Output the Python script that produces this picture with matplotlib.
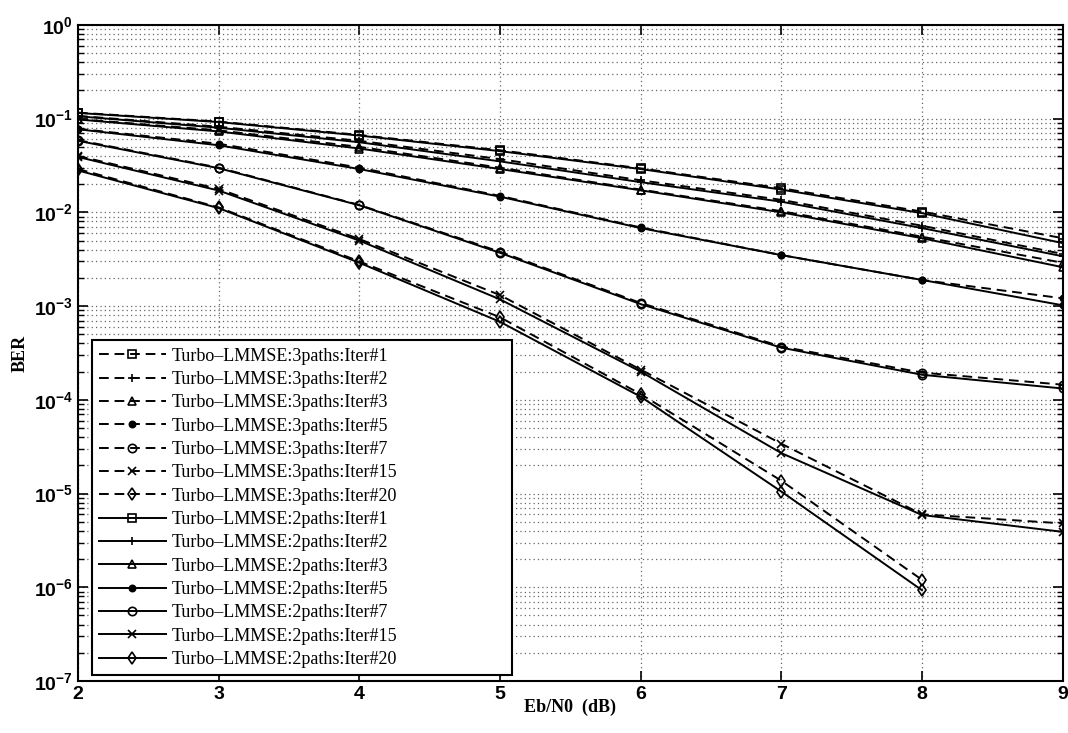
import numpy as np
import matplotlib
matplotlib.use('Agg')
import matplotlib.pyplot as plt
from matplotlib.ticker import LogLocator, NullFormatter, FuncFormatter

plt.rcParams['mathtext.fontset'] = 'custom'
plt.rcParams['mathtext.rm'] = 'Liberation Sans:bold'
plt.rcParams['mathtext.bf'] = 'Liberation Sans:bold'

# Eb/N0 in dB
ebn0 = [2, 3, 4, 5, 6, 7, 8, 9]

iters = ['1', '2', '3', '5', '7', '15', '20']
markers = ['s', '+', '^', '.', 'o', 'x', 'd']

# BER, 3 paths (dashed)
ber_3p_it1 = [0.116, 0.093, 0.067, 0.046, 0.0295, 0.0181, 0.0102, 0.0053]
ber_3p_it2 = [0.107, 0.082, 0.058, 0.037, 0.022, 0.0136, 0.0072, 0.0036]
ber_3p_it3 = [0.099, 0.075, 0.050, 0.030, 0.0175, 0.0103, 0.0055, 0.0029]
ber_3p_it5 = [0.078, 0.054, 0.030, 0.0150, 0.0069, 0.0035, 0.0019, 0.00121]
ber_3p_it7 = [0.059, 0.030, 0.0120, 0.0038, 0.00108, 0.00037, 0.000195, 0.000145]
ber_3p_it15 = [0.040, 0.0178, 0.0052, 0.00131, 0.00021, 3.4e-5, 6.0e-6, 4.8e-6]
ber_3p_it20 = [0.029, 0.0113, 0.0030, 0.00076, 0.000115, 1.37e-5, 1.2e-6]

# BER, 2 paths (solid)
ber_2p_it1 = [0.115, 0.092, 0.066, 0.045, 0.029, 0.0175, 0.0098, 0.0047]
ber_2p_it2 = [0.106, 0.080, 0.056, 0.035, 0.021, 0.0130, 0.0068, 0.0034]
ber_2p_it3 = [0.098, 0.073, 0.048, 0.029, 0.0172, 0.0100, 0.0053, 0.0026]
ber_2p_it5 = [0.077, 0.052, 0.029, 0.0147, 0.0068, 0.0035, 0.0019, 0.00102]
ber_2p_it7 = [0.058, 0.0296, 0.0119, 0.0037, 0.00105, 0.00036, 0.000185, 0.000132]
ber_2p_it15 = [0.039, 0.0171, 0.0050, 0.00118, 0.00020, 2.7e-5, 5.9e-6, 3.9e-6]
ber_2p_it20 = [0.028, 0.0111, 0.0029, 0.00068, 0.000108, 1.05e-5, 9.3e-7]

ber_3p = [ber_3p_it1, ber_3p_it2, ber_3p_it3, ber_3p_it5, ber_3p_it7, ber_3p_it15, ber_3p_it20]
ber_2p = [ber_2p_it1, ber_2p_it2, ber_2p_it3, ber_2p_it5, ber_2p_it7, ber_2p_it15, ber_2p_it20]

fig = plt.figure(figsize=(10.68, 7.33), dpi=100)
ax = fig.add_axes([0.073, 0.071, 0.922, 0.895])


def draw(series, ls, tag):
    for it, mk, y in zip(iters, markers, series):
        filled = (mk == '.')
        ax.semilogy(ebn0[:len(y)], y, color='k', linestyle=ls, linewidth=1.4,
                    marker=mk, markersize=9 if filled else 6,
                    markerfacecolor='k' if filled else 'none',
                    markeredgewidth=1.2, label='Turbo\u2013LMMSE:' + tag + ':Iter#' + it)


draw(ber_3p, (0, (5, 3)), '3paths')
draw(ber_2p, '-', '2paths')

ax.set_xlim(2, 9)
ax.set_ylim(1e-7, 1)
ax.yaxis.set_major_locator(LogLocator(base=10, numticks=10))
ax.yaxis.set_minor_locator(LogLocator(base=10, subs=np.arange(2, 10), numticks=100))
ax.yaxis.set_minor_formatter(NullFormatter())
ax.yaxis.set_major_formatter(FuncFormatter(lambda v, p: r'$\mathbf{10^{%d}}$' % round(np.log10(v))))

ax.grid(True, which='major', linestyle=(0, (1, 2.5)), color='#666666', linewidth=0.9)
ax.grid(True, which='minor', axis='y', linestyle=(0, (1, 2.5)), color='#666666', linewidth=0.9)

ax.tick_params(which='both', direction='in', top=True, right=True)
ax.tick_params(which='major', length=7, width=1.2, labelsize=14)
ax.tick_params(which='minor', length=4, width=1)
for lbl in ax.get_xticklabels():
    lbl.set_fontfamily('Liberation Sans')
    lbl.set_fontweight('bold')
for sp in ax.spines.values():
    sp.set_linewidth(1.5)

ax.set_xlabel('Eb/N0  (dB)', fontfamily='Liberation Serif', fontweight='bold', fontsize=13, labelpad=-3)
ax.set_ylabel('BER', fontfamily='Liberation Serif', fontweight='bold', fontsize=13, labelpad=4)

leg = ax.legend(loc='lower left', bbox_to_anchor=(0.014, 0.009, 0.427, 0.5), mode='expand',
                fancybox=False, framealpha=1, edgecolor='k', numpoints=1,
                handlelength=3.7, handletextpad=0.35, labelspacing=0.35, borderaxespad=0,
                prop={'family': 'Liberation Serif', 'size': 13})
leg.get_frame().set_linewidth(1.5)

fig.savefig('out.png', dpi=100)
